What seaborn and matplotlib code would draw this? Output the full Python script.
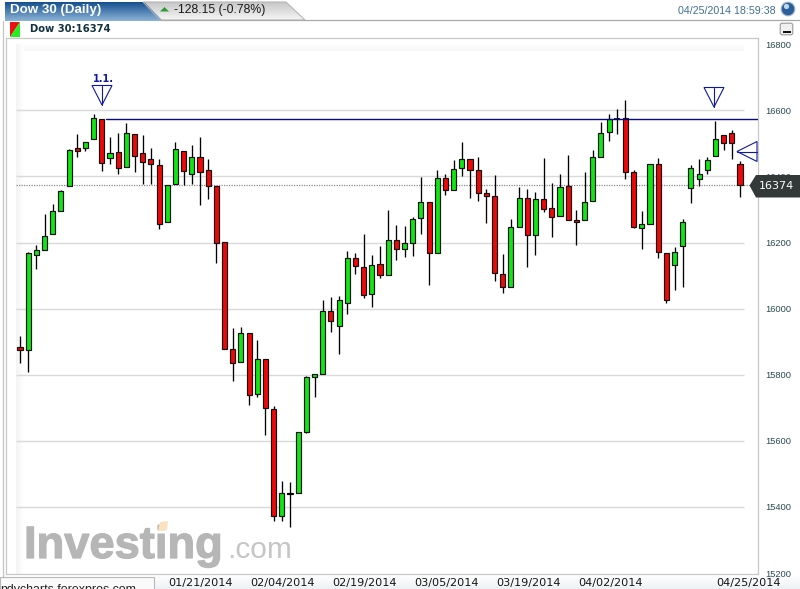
import numpy as np
import pandas as pd
import matplotlib
matplotlib.use("Agg")
import matplotlib.pyplot as plt
import matplotlib.patheffects as pe
from matplotlib.patches import Polygon, Circle, FancyBboxPatch, Rectangle
import seaborn as sns

# ---------- data ----------
opens = [15883,15874,16162,16177,16225,16295,16371,16486,16486,16513,16573,16455,16474,16428,16528,16470,16452,16434,16262,16377,
         16477,16407,16458,16419,16371,16201,15877,15838,15926,15741,15847,15696,15372,15440,15442,15628,15793,15802,15992,15946,
         16017,16153,16126,16044,16135,16101,16207,16180,16198,16274,16322,16168,16395,16359,16425,16452,16419,16349,16340,16104,
         16065,16247,16334,16222,16331,16304,16280,16371,16268,16268,16325,16458,16534,16573,16576,16413,16244,16256,16437,16168,
         16132,16189,16365,16392,16419,16461,16525,16531,16437]
highs = [15916,16172,16194,16287,16317,16359,16482,16529,16504,16588,16573,16519,16533,16561,16528,16525,16487,16452,16374,16504,
         16477,16496,16520,16452,16371,16201,15941,15944,15926,15906,15847,15706,15479,15475,15626,15795,15801,16027,16035,16039,
         16174,16167,16225,16161,16191,16299,16254,16251,16276,16399,16322,16419,16406,16449,16505,16452,16458,16363,16404,16165,
         16270,16368,16362,16352,16455,16380,16407,16464,16299,16413,16480,16564,16588,16605,16631,16419,16295,16437,16455,16168,
         16186,16271,16434,16452,16458,16567,16525,16541,16446]
lows = [15835,15809,16121,16177,16225,16295,16371,16460,16478,16513,16416,16438,16406,16428,16415,16378,16378,16241,16262,16377,
        16374,16378,16315,16331,16139,15877,15782,15838,15708,15732,15617,15356,15356,15339,15442,15625,15733,15802,15928,15862,
        15984,16106,16032,16006,16092,16101,16147,16155,16159,16225,16071,16168,16343,16359,16400,16334,16325,16259,16083,16047,
        16065,16247,16126,16161,16292,16216,16280,16268,16192,16268,16325,16458,16507,16528,16392,16244,16180,16256,16153,16017,
        16056,16064,16319,16371,16407,16461,16480,16452,16337]
closes = [15874,16168,16177,16219,16295,16355,16480,16477,16504,16576,16440,16470,16425,16531,16461,16443,16437,16257,16374,16483,
          16416,16458,16413,16372,16198,15877,15835,15926,15738,15847,15699,15372,15443,15440,15626,15793,15801,15992,15962,16025,
          16153,16129,16041,16132,16101,16207,16180,16198,16271,16322,16168,16395,16359,16422,16452,16419,16349,16340,16107,16065,
          16247,16334,16222,16331,16301,16277,16368,16268,16262,16322,16458,16531,16573,16573,16413,16247,16256,16437,16171,16026,
          16171,16262,16425,16407,16449,16513,16501,16501,16374]

y_ticks = [16800, 16600, 16400, 16200, 16000, 15800, 15600, 15400, 15200]
grid_levels = [16600, 16400, 16200, 16000, 15800, 15600, 15400]
date_ticks = [22.12, 32.12, 42.12, 52.12, 62.12, 72.12, 89]
date_labels = ["01/21/2014", "02/04/2014", "02/19/2014", "03/05/2014",
               "03/19/2014", "04/02/2014", "04/25/2014"]
last_price = 16374
resistance = 16574

df = pd.DataFrame({"open": opens, "high": highs, "low": lows, "close": closes})
df["i"] = np.arange(len(df))
df["body"] = (df.close - df.open).abs()
df["bottom"] = df[["open", "close"]].min(axis=1)
GREEN, RED = "#12e612", "#f00808"
df["color"] = np.where(df.close >= df.open, GREEN, RED)

# ---------- figure ----------
sns.set_theme(style="white")
plt.rcParams["font.family"] = ["Liberation Sans", "DejaVu Sans"]
W, H = 800, 589
fig = plt.figure(figsize=(W / 100, H / 100), dpi=100, facecolor="white")


def overlay(z):
    a = fig.add_axes([0, 0, 1, 1], zorder=z)
    a.set_xlim(0, W)
    a.set_ylim(H, 0)
    a.axis("off")
    a.patch.set_alpha(0)
    return a


def gradient(a, extent, c0, c1, clip=None, horizontal=False):
    cmap = matplotlib.colors.LinearSegmentedColormap.from_list("g", [c0, c1])
    arr = np.linspace(0, 1, 64).reshape(-1, 1)
    if horizontal:
        arr = arr.T
    im = a.imshow(arr, extent=extent, cmap=cmap, aspect="auto", origin="upper", zorder=1)
    if clip is not None:
        p = Polygon(clip, closed=True, transform=a.transData, fc="none", ec="none")
        a.add_patch(p)
        im.set_clip_path(p)
    a.set_xlim(0, W)
    a.set_ylim(H, 0)


bg = overlay(0)
# faint shading inside the plot panel and below it
gradient(bg, (16, 744, 51, 44), "#ffffff", "#f6f6f6")
gradient(bg, (16, 24, 574, 44), "#f4f4f4", "#ffffff", horizontal=True)
gradient(bg, (153, 800, 589, 575), "#ffffff", "#eef1f5")
bg.add_line(plt.Line2D([3, 3], [21, 589], color="#c4c4c4", lw=0.9))
# watermark
bg.text(24, 558, "Investing", fontsize=32.6, fontweight="bold", color="#b6b6b6",
        family="Liberation Sans", va="baseline", ha="left", zorder=3,
        path_effects=[pe.withStroke(linewidth=0.9, foreground="#b6b6b6")])
bg.text(227, 558, ".com", fontsize=21.5, color="#c6c6c6",
        family="Liberation Sans", va="baseline", ha="left", zorder=3)
bg.add_patch(Polygon([(160, 522), (168, 521), (167, 530), (158, 531)], fc="#f9e2bd", ec="none", zorder=4))

# ---------- main price axes ----------
ax = fig.add_axes([6 / W, 1 - 574 / H, 752 / W, 536 / H], zorder=1)
ax.patch.set_alpha(0)
ax.set_xlim(-1.711, 90.2)
ax.set_ylim(15197, 16819)

ax.hlines(grid_levels, -0.49, 88.5, color="#d9d9d9", lw=1.0, zorder=1)
ax.hlines(last_price, -0.49, 89.3, color="#8a8a8a", lw=0.9, linestyles=(0, (1, 1)), zorder=1)

ax.vlines(df.i, df.low, df.high, color="black", lw=0.95, zorder=2)
ax.bar(df.i, df.body.clip(lower=1), bottom=df.bottom, width=0.62, color=df.color,
       edgecolor="#101010", linewidth=0.85, zorder=3)
# candles that open and close at the same price are a plain dash
doji = df[df.i.isin([33, 73])]
ax.hlines(doji.close, doji.i - 0.35, doji.i + 0.35, color="black", lw=1.2, zorder=4)

line_df = pd.DataFrame({"x": [10.5, 90.2], "y": [resistance, resistance]})
sns.lineplot(data=line_df, x="x", y="y", ax=ax, color="#0a0a80", lw=1.0, zorder=5, legend=False)

ax.yaxis.tick_right()
ax.set_yticks(y_ticks)
ax.set_yticklabels([str(v) for v in y_ticks], fontsize=6.7, color="#2a4a50", family="Liberation Sans")
ax.set_xticks(date_ticks)
ax.set_xticklabels(date_labels, fontsize=8.1, color="#151515", family="DejaVu Sans")
ax.tick_params(axis="y", length=0, pad=5)
ax.tick_params(axis="x", length=0, pad=3)
ax.set_xlabel("")
ax.set_ylabel("")
for s in ax.spines.values():
    s.set_color("#c8c8c8")
    s.set_linewidth(0.9)

# ---------- chrome on top ----------
fg = overlay(2)
fg.add_line(plt.Line2D([160, 800], [20.3, 20.3], color="#a8a8a8", lw=0.9))

tab2 = [(143, 2), (286, 2), (305, 20), (160, 20)]
gradient(fg, (143, 305, 20, 2), "#c6c6c6", "#f6f6f6", clip=tab2)
fg.add_patch(Polygon(tab2, closed=True, fc="none", ec="#b0b0b0", lw=0.7, zorder=2))
tab1 = [(5, 2), (144, 2), (163, 21), (5, 21)]
gradient(fg, (5, 163, 21, 2), "#14508f", "#8db3d6", clip=tab1)
fg.text(10, 10.5, "Dow 30 (Daily)", color="white", fontsize=9.6, fontweight="bold", va="center", zorder=3)
fg.add_patch(Polygon([(160, 11.5), (169, 11.5), (164.5, 7)], fc="#2f9a3a", ec="none", zorder=3))
fg.text(174, 10.5, "-128.15 (-0.78%)", color="#1a1a1a", fontsize=8.8, va="center", zorder=3)
fg.text(776, 10.5, "04/25/2014 18:59:38", color="#3f7093", fontsize=7.7, va="center", ha="right", zorder=3)
fg.add_patch(Circle((788, 9), 6.8, fc="#2c5f9a", ec="#9fb4c8", lw=0.8, zorder=3))
fg.add_patch(Circle((786.5, 6.5), 2.6, fc="#c4d8ec", ec="none", zorder=4))

# panel icon and series label
fg.add_patch(Polygon([(10, 22), (20, 22), (10, 37)], fc="#ee1111", ec="none", zorder=3))
fg.add_patch(Polygon([(20, 22), (20, 37), (10, 37)], fc="#22ee22", ec="none", zorder=3))
fg.text(30.5, 29.5, "Dow 30:16374", color="#12323f", fontsize=7.2, fontweight="bold",
        family="DejaVu Sans", va="center", zorder=3)
fg.add_patch(FancyBboxPatch((781, 24), 11, 10, boxstyle="round,pad=0.8,rounding_size=2",
                            fc="#f0f0f0", ec="#9a9a9a", lw=0.8, zorder=3))
fg.add_patch(Rectangle((782.5, 30.5), 8, 2, fc="#111111", ec="none", zorder=4))

# pattern markers
BLUE = "#1018a0"
fg.add_patch(Polygon([(92, 85.5), (112, 85.5), (102, 105)], closed=True, fc="none", ec=BLUE, lw=0.8, zorder=3))
fg.add_line(plt.Line2D([102, 102], [85.5, 105], color=BLUE, lw=0.8, zorder=3))
fg.text(103.5, 78.5, "1.1.", color=BLUE, fontsize=7, fontweight="bold", ha="center", va="center",
        family="DejaVu Sans", zorder=3)
fg.add_patch(Polygon([(704, 87.5), (724, 87.5), (714, 107)], closed=True, fc="none", ec=BLUE, lw=0.8, zorder=3))
fg.add_line(plt.Line2D([714, 714], [87.5, 107], color=BLUE, lw=0.8, zorder=3))
fg.add_patch(Polygon([(737, 151.5), (757, 141.5), (757, 161.5)], closed=True, fc="none", ec=BLUE, lw=0.8, zorder=3))
fg.add_line(plt.Line2D([737, 757], [151.5, 151.5], color=BLUE, lw=0.8, zorder=3))

# last price tag
fg.add_patch(Polygon([(749.5, 185.5), (756, 175), (800, 175), (800, 197.5), (756, 197.5)],
                     closed=True, fc="#333838", ec="none", zorder=5))
fg.text(776, 186, "16374", color="white", fontsize=8, family="DejaVu Sans", ha="center", va="center", zorder=6)

# status tab at the bottom left
fg.add_patch(Rectangle((0, 577), 153.5, 14, fc="#fafafa", ec="#b8b8b8", lw=0.8, zorder=5))
fg.text(0, 584.5, "ndycharts.forexpros.com", color="#222222", fontsize=8.9, ha="left", va="top", zorder=6)

fig.savefig("out.png", dpi=100)
